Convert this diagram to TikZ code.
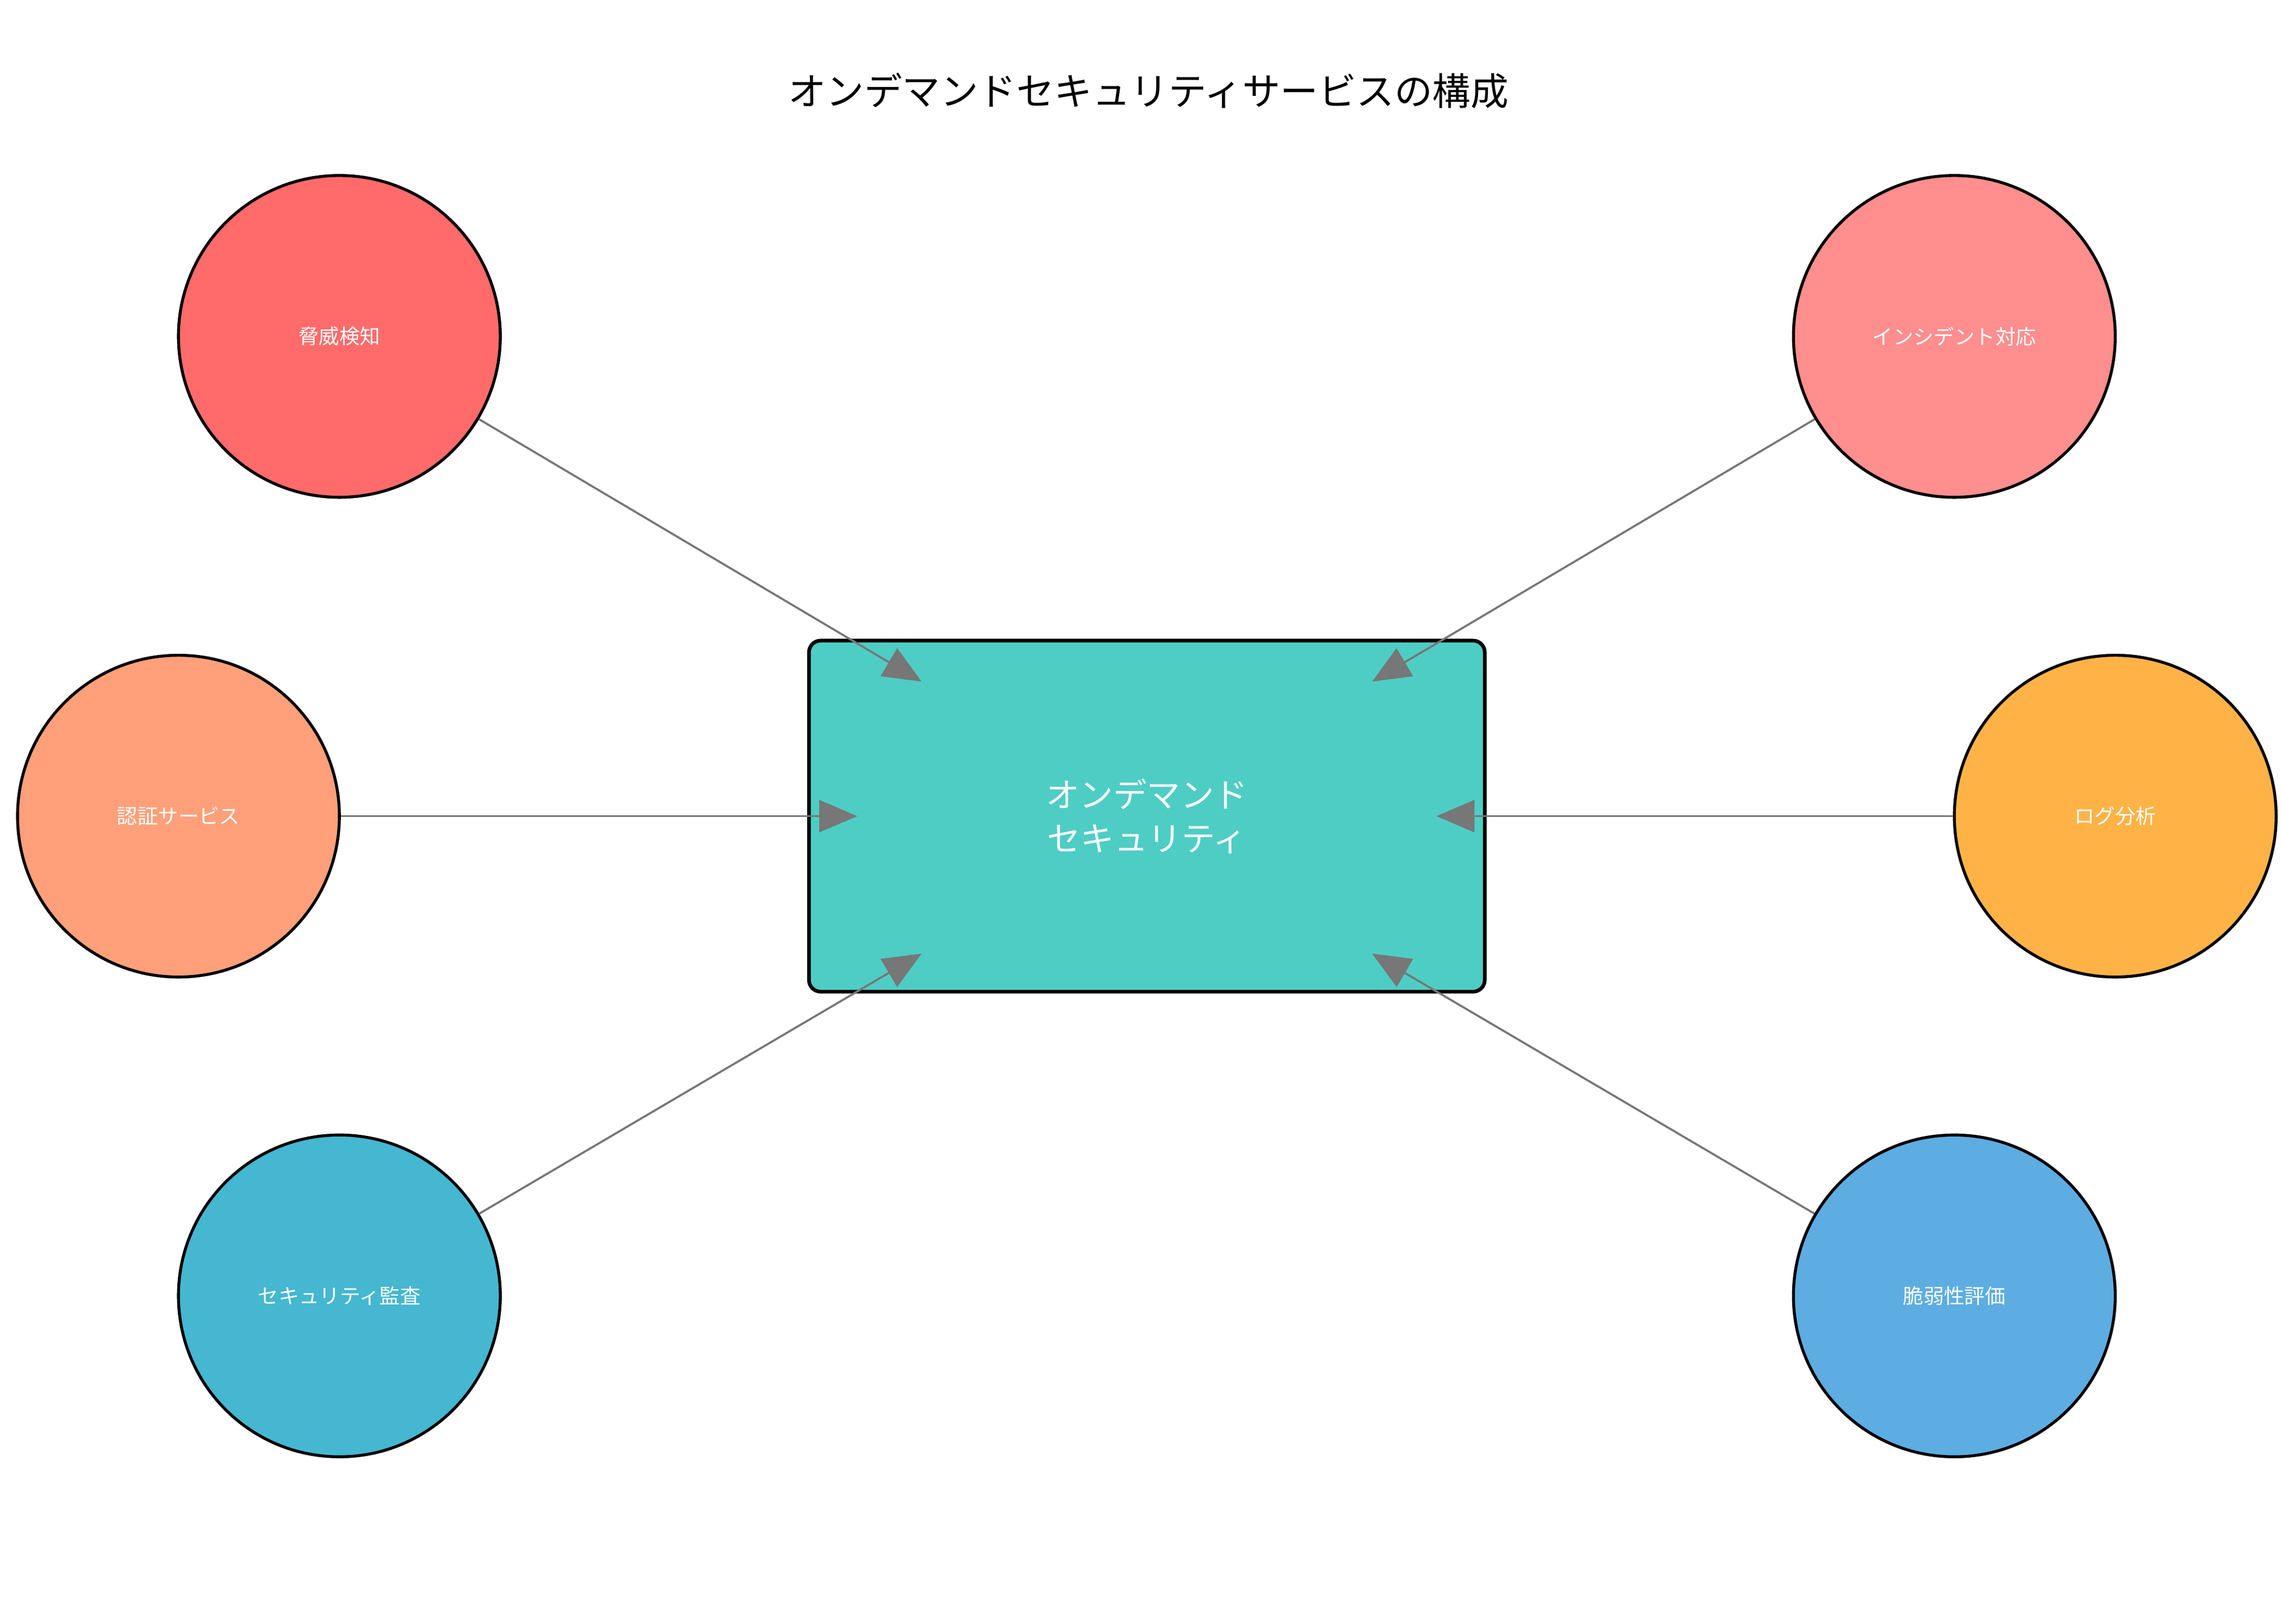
\documentclass[tikz,border=0pt]{standalone}
\usepackage{fontspec}
\setmainfont{Noto Sans CJK JP}
\usetikzlibrary{arrows.meta}
\definecolor{cA}{HTML}{FF6B6B}
\definecolor{cB}{HTML}{FF8E8E}
\definecolor{cC}{HTML}{FFA07A}
\definecolor{cD}{HTML}{FFB347}
\definecolor{cE}{HTML}{45B7D1}
\definecolor{cF}{HTML}{5DADE2}
\definecolor{cM}{HTML}{4ECDC4}
\definecolor{gr}{HTML}{777777}
\begin{document}
\begin{tikzpicture}[x=1pt,y=-1pt,
  circ/.style={circle,draw=black,line width=2pt,minimum size=220pt,inner sep=0pt,text=white,font=\fontsize{14}{16}\selectfont},
  conn/.style={draw=gr,line width=1.4pt,-{Triangle[length=26pt,width=22pt]}}]
\useasboundingbox[fill=white] (0,0) rectangle (1560,1110);
\node at (785,62) {\fontsize{26}{30}\selectfont オンデマンドセキュリティサービスの構成};
\node (m) [draw=black,line width=2.5pt,rounded corners=8pt,fill=cM,minimum width=462pt,minimum height=240pt,text=white,align=center,font=\fontsize{23}{30}\selectfont] at (784,558) {オンデマンド\\セキュリティ};
\node (a) [circ,fill=cA] at (232,230) {脅威検知};
\node (b) [circ,fill=cB] at (1336,230) {インシデント対応};
\node (c) [circ,fill=cC] at (122,558) {認証サービス};
\node (d) [circ,fill=cD] at (1446,558) {ログ分析};
\node (e) [circ,fill=cE] at (232,886) {セキュリティ監査};
\node (f) [circ,fill=cF] at (1336,886) {脆弱性評価};
\coordinate (ta) at (630,466);
\coordinate (tb) at (938,466);
\coordinate (tc) at (586,558);
\coordinate (td) at (982,558);
\coordinate (te) at (630,652);
\coordinate (tf) at (938,652);
\draw[conn] (a) -- (ta);
\draw[conn] (b) -- (tb);
\draw[conn] (c) -- (tc);
\draw[conn] (d) -- (td);
\draw[conn] (e) -- (te);
\draw[conn] (f) -- (tf);
\end{tikzpicture}
\end{document}
